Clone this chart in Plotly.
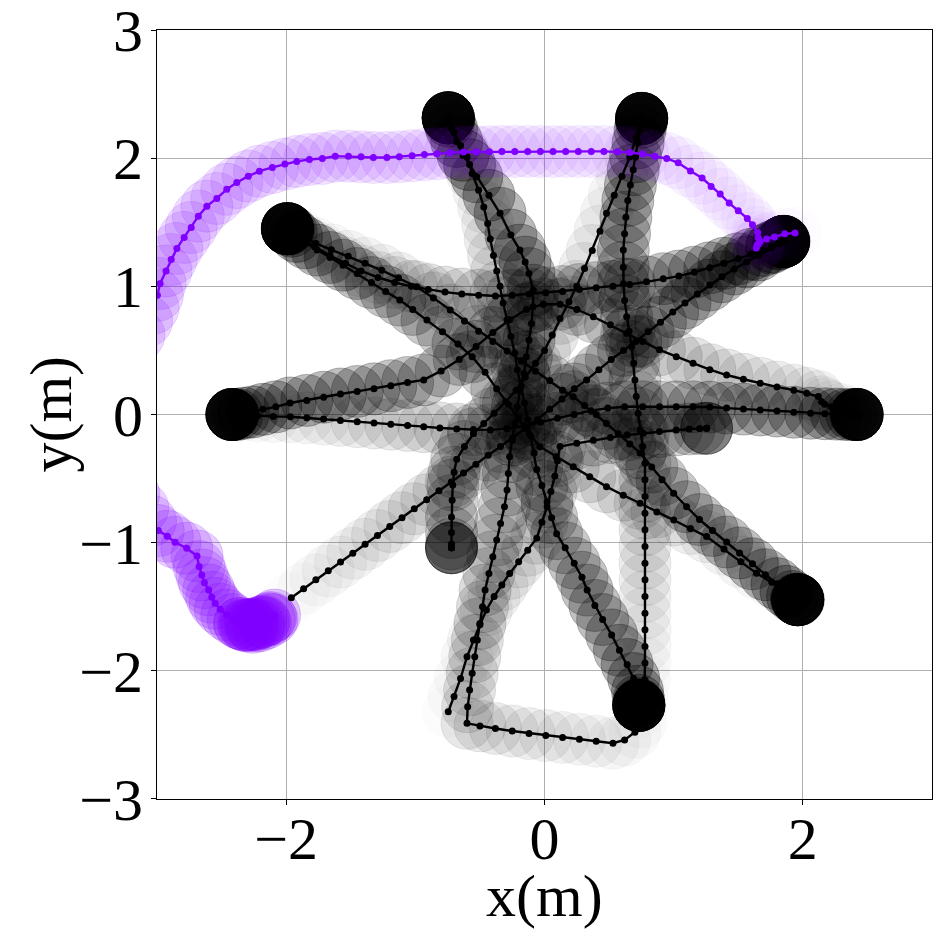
import plotly.graph_objects as go

# ---------------- data: robot trajectories (x, y) in metres ----------------
agent_a = [(-1.96,-1.43),(-1.865,-1.36),(-1.77,-1.29),(-1.674,-1.22),(-1.579,-1.152),(-1.484,-1.083),
           (-1.389,-1.013),(-1.293,-0.944),(-1.198,-0.874),(-1.103,-0.805),(-1.008,-0.735),(-0.912,-0.666),
           (-0.817,-0.596),(-0.722,-0.527),(-0.627,-0.457),(-0.531,-0.388),(-0.436,-0.318),(-0.341,-0.249),
           (-0.246,-0.179),(-0.15,-0.11),(-0.055,-0.04),(0.04,0.04),(0.136,0.12),(0.231,0.2),(0.326,0.27),
           (0.421,0.35),(0.517,0.43),(0.612,0.5),(0.707,0.57),(0.802,0.645),(0.898,0.72),(0.993,0.8),
           (1.088,0.87),(1.183,0.94),(1.279,1.01),(1.374,1.075),(1.469,1.135),(1.564,1.19),(1.66,1.245),
           (1.755,1.3),(1.82,1.335),(1.84,1.345),(1.85,1.35),(1.855,1.352),(1.85,1.35),(1.848,1.349),
           (1.852,1.351),(1.85,1.35),(1.85,1.35)]

agent_b = [(2.42,0.0),(2.36,0.02),(2.29,0.04),(2.22,0.06),(2.17,0.08),(2.145,0.1),(2.12,0.14),(2.03,0.165),
           (1.93,0.19),(1.8,0.215),(1.67,0.243),(1.54,0.275),(1.41,0.308),(1.28,0.35),(1.15,0.4),(1.02,0.45),
           (0.89,0.505),(0.76,0.57),(0.636,0.633),(0.51,0.7),(0.378,0.763),(0.25,0.82),(0.12,0.86),
           (-0.01,0.86),(-0.14,0.82),(-0.27,0.74),(-0.4,0.64),(-0.53,0.53),(-0.66,0.43),(-0.8,0.34),
           (-0.935,0.27),(-1.06,0.25),(-1.19,0.225),(-1.32,0.2),(-1.45,0.18),(-1.58,0.16),(-1.71,0.135),
           (-1.84,0.11),(-1.97,0.09),(-2.08,0.06),(-2.18,0.04),(-2.26,0.02),(-2.33,0.01),(-2.38,0.0),
           (-2.41,0.0),(-2.415,0.0),(-2.42,0.0),(-2.42,0.0),(-2.42,0.0),(-2.42,0.0),(-2.42,0.0),(-2.42,0.0)]

agent_c = [(-2.42,0.0),(-2.33,-0.005),(-2.22,-0.01),(-2.1,-0.015),(-1.967,-0.017),(-1.84,-0.026),
           (-1.71,-0.036),(-1.58,-0.046),(-1.45,-0.056),(-1.32,-0.066),(-1.19,-0.076),(-1.06,-0.086),
           (-0.935,-0.095),(-0.81,-0.105),(-0.68,-0.113),(-0.55,-0.118),(-0.42,-0.12),(-0.29,-0.11),
           (-0.16,-0.09),(-0.03,-0.06),(0.1,-0.03),(0.23,0.0),(0.36,0.03),(0.49,0.05),(0.62,0.06),
           (0.76,0.06),(0.89,0.06),(1.02,0.06),(1.15,0.06),(1.28,0.058),(1.41,0.05),(1.54,0.042),
           (1.67,0.035),(1.8,0.027),(1.93,0.018),(2.06,0.01),(2.17,0.006),(2.26,0.003),(2.33,0.0),
           (2.38,0.0),(2.41,0.0),(2.415,0.0),(2.42,0.0),(2.42,0.0),(2.42,0.0),(2.42,0.0),(2.42,0.0),(2.42,0.0)]

agent_d = [(-1.99,1.45),(-1.88,1.39),(-1.77,1.335),(-1.65,1.285),(-1.52,1.235),(-1.39,1.18),(-1.26,1.125),
           (-1.13,1.065),(-0.99,0.997),(-0.86,0.91),(-0.73,0.815),(-0.62,0.73),(-0.51,0.65),(-0.4,0.57),
           (-0.29,0.495),(-0.18,0.42),(-0.07,0.34),(0.04,0.265),(0.14,0.19),(0.223,0.139),(0.31,0.07),
           (0.4,0.0),(0.48,-0.07),(0.57,-0.15),(0.66,-0.23),(0.74,-0.3),(0.83,-0.41),(0.91,-0.51),
           (1.0,-0.615),(1.1,-0.72),(1.2,-0.82),(1.3,-0.905),(1.41,-0.995),(1.51,-1.08),(1.61,-1.165),
           (1.71,-1.25),(1.8,-1.32),(1.87,-1.38),(1.92,-1.42),(1.95,-1.44),(1.96,-1.445),(1.96,-1.445),
           (1.965,-1.447),(1.96,-1.445),(1.96,-1.445),(1.962,-1.446),(1.96,-1.445),(1.96,-1.445)]

agent_e = [(1.965,-1.447),(1.87,-1.38),(1.76,-1.31),(1.642,-1.239),(1.52,-1.15),(1.39,-1.05),
           (1.255,-0.953),(1.13,-0.89),(1.0,-0.823),(0.87,-0.76),(0.74,-0.693),(0.61,-0.63),(0.48,-0.563),
           (0.35,-0.485),(0.223,-0.407),(0.09,-0.33),(-0.035,-0.251),(-0.12,-0.15),(-0.2,-0.03),
           (-0.28,0.08),(-0.37,0.2),(-0.46,0.33),(-0.56,0.45),(-0.67,0.55),(-0.79,0.645),(-0.91,0.737),
           (-1.02,0.82),(-1.12,0.893),(-1.23,0.96),(-1.34,1.03),(-1.45,1.1),(-1.56,1.165),(-1.66,1.225),
           (-1.76,1.283),(-1.85,1.34),(-1.92,1.39),(-1.96,1.43),(-1.98,1.445),(-1.99,1.45),(-1.99,1.45),
           (-1.99,1.45),(-1.992,1.451),(-1.99,1.45),(-1.99,1.45),(-1.99,1.45),(-1.99,1.45)]

agent_f = [(-0.745,2.32),(-0.7,2.2),(-0.65,2.1),(-0.6,2.01),(-0.56,1.88),(-0.51,1.75),(-0.47,1.62),
           (-0.44,1.49),(-0.42,1.37),(-0.395,1.24),(-0.37,1.12),(-0.344,1.0),(-0.32,0.87),(-0.29,0.74),
           (-0.26,0.61),(-0.23,0.48),(-0.21,0.35),(-0.18,0.22),(-0.155,0.09),(-0.13,-0.04),(-0.105,-0.17),
           (-0.08,-0.3),(-0.06,-0.43),(-0.02,-0.555),(0.02,-0.68),(0.055,-0.805),(0.094,-0.93),(0.16,-1.04),
           (0.23,-1.16),(0.29,-1.27),(0.33,-1.37),(0.39,-1.49),(0.45,-1.6),(0.52,-1.72),(0.58,-1.84),
           (0.64,-1.95),(0.69,-2.06),(0.72,-2.16),(0.73,-2.23),(0.73,-2.26),(0.73,-2.27),(0.73,-2.27),
           (0.732,-2.272),(0.73,-2.27),(0.73,-2.27),(0.73,-2.27),(0.73,-2.27),(0.73,-2.27)]

agent_g = [(0.74,-2.32),(0.745,-2.4),(0.7,-2.48),(0.62,-2.54),(0.53,-2.565),(0.4,-2.55),(0.27,-2.535),
           (0.14,-2.52),(0.01,-2.505),(-0.12,-2.49),(-0.25,-2.47),(-0.38,-2.45),(-0.5,-2.43),(-0.6,-2.41),
           (-0.595,-2.28),(-0.58,-2.15),(-0.56,-2.02),(-0.54,-1.89),(-0.52,-1.76),(-0.5,-1.63),(-0.48,-1.5),
           (-0.46,-1.37),(-0.43,-1.24),(-0.4,-1.11),(-0.37,-0.98),(-0.34,-0.85),(-0.31,-0.72),(-0.29,-0.59),
           (-0.28,-0.46),(-0.27,-0.33),(-0.25,-0.2),(-0.23,-0.07),(-0.21,0.06),(-0.19,0.19),(-0.16,0.32),
           (-0.14,0.45),(-0.12,0.58),(-0.1,0.71),(-0.09,0.84),(-0.087,0.97),(-0.12,1.1),(-0.15,1.19),
           (-0.19,1.283),(-0.26,1.4),(-0.344,1.57),(-0.43,1.71),(-0.525,1.855),(-0.58,1.95),(-0.63,2.024),
           (-0.68,2.13),(-0.72,2.23),(-0.74,2.29),(-0.745,2.315),(-0.745,2.315),(-0.745,2.315),
           (-0.747,2.317),(-0.745,2.315),(-0.745,2.315),(-0.745,2.315),(-0.745,2.315)]

agent_h = [(-0.745,-2.32),(-0.7,-2.2),(-0.65,-2.06),(-0.6,-1.89),(-0.55,-1.76),(-0.5,-1.64),(-0.45,-1.525),
           (-0.39,-1.42),(-0.33,-1.33),(-0.27,-1.24),(-0.2,-1.15),(-0.13,-1.06),(-0.06,-0.965),(-0.02,-0.84),
           (0.02,-0.72),(0.05,-0.6),(0.08,-0.48),(0.1,-0.36),(0.12,-0.25),(0.25,-0.225),(0.378,-0.2),
           (0.51,-0.18),(0.64,-0.16),(0.765,-0.147),(0.89,-0.133),(1.02,-0.12),(1.12,-0.113),(1.2,-0.11),
           (1.255,-0.108),(1.255,-0.108),(1.255,-0.108)]

agent_i = [(0.76,-2.2),(0.775,-2.07),(0.778,-1.94),(0.778,-1.81),(0.778,-1.68),(0.778,-1.55),(0.778,-1.42),
           (0.778,-1.29),(0.778,-1.16),(0.778,-1.03),(0.778,-0.9),(0.778,-0.77),(0.778,-0.64),(0.778,-0.51),
           (0.778,-0.38),(0.76,-0.25),(0.74,-0.12),(0.725,0.01),(0.71,0.14),(0.7,0.27),(0.69,0.4),
           (0.675,0.53),(0.655,0.65),(0.636,0.763),(0.62,0.89),(0.612,1.02),(0.61,1.15),(0.61,1.283),
           (0.62,1.41),(0.63,1.54),(0.645,1.67),(0.665,1.79),(0.687,1.91),(0.705,2.01),(0.725,2.12),
           (0.74,2.22),(0.75,2.28),(0.752,2.31),(0.752,2.31),(0.752,2.31),(0.754,2.312),(0.752,2.31),
           (0.752,2.31),(0.752,2.31),(0.752,2.31)]

agent_j = [(0.752,2.31),(0.71,2.16),(0.66,2.01),(0.6,1.86),(0.54,1.71),(0.48,1.57),(0.43,1.43),(0.37,1.28),
           (0.31,1.14),(0.25,1.0),(0.19,0.88),(0.12,0.75),(0.06,0.62),(0.0,0.5),(-0.07,0.4),(-0.15,0.29),
           (-0.22,0.19),(-0.3,0.1),(-0.39,0.01),(-0.47,-0.07),(-0.55,-0.15),(-0.62,-0.25),(-0.68,-0.35),
           (-0.7,-0.45),(-0.71,-0.55),(-0.715,-0.67),(-0.72,-0.8),(-0.72,-0.92),(-0.72,-1.01),(-0.72,-1.04),
           (-0.72,-1.04),(-0.72,-1.04),(-0.72,-1.04)]

agent_k = [(-1.99,1.45),(-1.89,1.38),(-1.78,1.31),(-1.66,1.24),(-1.54,1.18),(-1.42,1.12),(-1.29,1.07),
           (-1.16,1.03),(-1.03,1.0),(-0.9,0.975),(-0.77,0.955),(-0.64,0.94),(-0.51,0.93),(-0.38,0.925),
           (-0.25,0.93),(-0.12,0.94),(0.01,0.95),(0.14,0.96),(0.27,0.975),(0.4,0.99),(0.53,1.0),(0.66,1.015),
           (0.79,1.035),(0.92,1.06),(1.04,1.08),(1.16,1.11),(1.28,1.145),(1.39,1.18),(1.5,1.215),(1.6,1.25),
           (1.69,1.28),(1.76,1.31),(1.81,1.33),(1.85,1.35),(1.85,1.35),(1.85,1.35),(1.85,1.35),(1.85,1.35)]

purple_agent = [(1.94,1.416),(1.86,1.41),(1.78,1.385),(1.72,1.37),(1.67,1.35),(1.645,1.32),(1.64,1.3),
                (1.655,1.33),(1.655,1.38),(1.65,1.42),(1.61,1.48),(1.57,1.53),(1.5,1.59),(1.43,1.65),
                (1.36,1.72),(1.29,1.78),(1.22,1.845),(1.13,1.9),(1.035,1.964),(0.946,1.998),(0.855,2.016),
                (0.76,2.032),(0.662,2.045),(0.563,2.05),(0.46,2.053),(0.362,2.053),(0.262,2.053),
                (0.164,2.053),(0.066,2.053),(-0.032,2.053),(-0.13,2.053),(-0.23,2.053),(-0.33,2.053),
                (-0.427,2.05),(-0.528,2.05),(-0.628,2.048),(-0.73,2.042),(-0.834,2.035),(-0.93,2.028),
                (-1.025,2.02),(-1.124,2.011),(-1.22,2.006),(-1.325,2.006),(-1.42,2.011),(-1.518,2.016),
                (-1.62,2.016),(-1.72,1.998),(-1.82,1.99),(-1.918,1.975),(-2.01,1.954),(-2.107,1.928),
                (-2.207,1.899),(-2.293,1.86),(-2.382,1.81),(-2.46,1.757),(-2.537,1.686),(-2.614,1.626),
                (-2.68,1.548),(-2.735,1.46),(-2.79,1.382),(-2.846,1.296),(-2.89,1.21),(-2.93,1.12),
                (-2.976,1.023),(-2.997,0.93),(-3.03,0.83),(-3.08,0.73),(-3.14,0.62),(-3.2,0.5),(-3.26,0.38),
                (-3.3,0.25),(-3.33,0.12),(-3.35,0.0),(-3.35,-0.12),(-3.33,-0.25),(-3.3,-0.38),(-3.25,-0.5),
                (-3.18,-0.62),(-3.11,-0.73),(-3.05,-0.83),(-2.99,-0.906),(-2.92,-0.95),(-2.86,-0.997),
                (-2.77,-1.044),(-2.69,-1.104),(-2.674,-1.187),(-2.653,-1.252),(-2.633,-1.312),(-2.6,-1.369),
                (-2.576,-1.426),(-2.55,-1.473),(-2.51,-1.52),(-2.46,-1.565),(-2.41,-1.6),(-2.36,-1.63),
                (-2.31,-1.65),(-2.26,-1.66),(-2.21,-1.65),(-2.16,-1.63),(-2.11,-1.6),(-2.09,-1.565),
                (-2.12,-1.585),(-2.17,-1.61),(-2.22,-1.63),(-2.27,-1.645),(-2.32,-1.645),(-2.36,-1.63),
                (-2.3,-1.64),(-2.24,-1.64),(-2.18,-1.62),(-2.13,-1.595),(-2.2,-1.62),(-2.26,-1.635),
                (-2.33,-1.64),(-2.28,-1.64)]

black_agents = [agent_a, agent_b, agent_c, agent_d, agent_e, agent_f,
                agent_g, agent_h, agent_i, agent_j, agent_k]
# final (per-circle) opacity reached by each black robot: the two robots that stopped
# early in the run end lighter than the ones that reached their goals
black_final_alpha = [0.36, 0.36, 0.36, 0.36, 0.36, 0.36, 0.36, 0.21, 0.36, 0.22, 0.36]

x_tick_vals = [-2, 0, 2]
x_tick_text = ['\u22122', '0', '2']
y_tick_vals = [-3, -2, -1, 0, 1, 2, 3]
y_tick_text = ['\u22123', '\u22122', '\u22121', '0', '1', '2', '3']
x_label = 'x(m)'
y_label = 'y(m)'

# ---------------- styles ----------------
ROBOT_PX = 52
START_ALPHA = 0.012
PURPLE_RGB = (128, 0, 255)
PURPLE_FINAL_ALPHA = 0.24
FONT = 'Liberation Serif, Times New Roman, serif'
FONT_SIZE = 60


def alpha_ramp(n, a_end):
    return [START_ALPHA + (a_end - START_ALPHA) * i / max(n - 1, 1) for i in range(n)]


def circle_trace(path, rgb, a_end):
    xs = [p[0] for p in path]
    ys = [p[1] for p in path]
    cols = ['rgba(%d,%d,%d,%.4f)' % (rgb[0], rgb[1], rgb[2], a) for a in alpha_ramp(len(path), a_end)]
    return go.Scatter(x=xs, y=ys, mode='markers', hoverinfo='skip', showlegend=False,
                      marker=dict(size=ROBOT_PX, color=cols, line=dict(width=1, color=cols)))


def path_trace(path, color):
    xs = [p[0] for p in path]
    ys = [p[1] for p in path]
    return go.Scatter(x=xs, y=ys, mode='lines+markers', hoverinfo='skip', showlegend=False,
                      line=dict(color=color, width=2.4), marker=dict(size=7, color=color))


fig = go.Figure()
for path, a_end in zip(black_agents, black_final_alpha):
    fig.add_trace(circle_trace(path, (0, 0, 0), a_end))
fig.add_trace(circle_trace(purple_agent, PURPLE_RGB, PURPLE_FINAL_ALPHA))
for path in black_agents:
    fig.add_trace(path_trace(path, 'black'))
fig.add_trace(path_trace(purple_agent, 'rgb(%d,%d,%d)' % PURPLE_RGB))

axis_common = dict(showgrid=True, gridcolor='#b0b0b0', gridwidth=1, zeroline=False,
                   showline=True, linecolor='black', linewidth=1, mirror=True,
                   ticks='outside', ticklen=5, tickwidth=1, tickcolor='black',
                   layer='above traces', ticklabeloverflow='allow',
                   tickfont=dict(family=FONT, size=FONT_SIZE, color='black'))

fig.update_xaxes(range=[-3, 3], tickmode='array', tickvals=x_tick_vals, ticktext=x_tick_text,
                 ticklabelstandoff=-18, **axis_common)
fig.update_yaxes(range=[-3.0005, 3.0005], tickmode='array', tickvals=y_tick_vals, ticktext=y_tick_text,
                 ticklabelstandoff=-4, **axis_common)

fig.add_annotation(text=x_label, xref='paper', yref='paper', x=0.5, y=-0.126,
                   xanchor='center', yanchor='middle', showarrow=False,
                   font=dict(family=FONT, size=FONT_SIZE, color='black'))
fig.add_annotation(text=y_label, xref='paper', yref='paper', x=-0.138, y=0.5, textangle=-90,
                   xanchor='center', yanchor='middle', showarrow=False,
                   font=dict(family=FONT, size=FONT_SIZE, color='black'))

fig.update_layout(width=941, height=940, margin=dict(l=157, r=9, t=30, b=141, autoexpand=False),
                  plot_bgcolor='white', paper_bgcolor='white', showlegend=False,
                  font=dict(family=FONT, size=FONT_SIZE, color='black'))

fig.write_html('out.html', config={'displayModeBar': False},
               post_script="document.body.style.margin='0px';")
